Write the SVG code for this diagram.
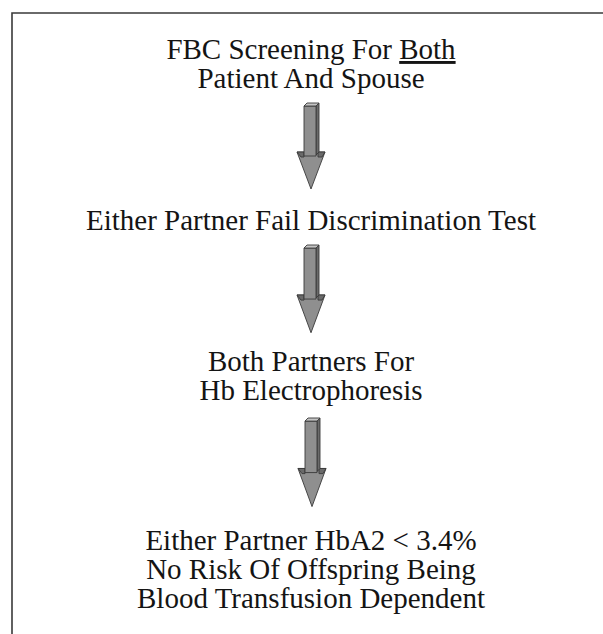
<svg xmlns="http://www.w3.org/2000/svg" xmlns:xlink="http://www.w3.org/1999/xlink" width="603" height="634" viewBox="0 0 603 634">
  <style>
    .t { font-family: "Liberation Serif", "Times New Roman", serif; font-size: 29px; fill: #141414; text-anchor: middle; }
    .frame { fill: none; stroke: #3a3a3a; stroke-width: 1.6; }
    .front { fill: #8f8f8f; stroke: #3a3a3a; stroke-width: 0.9; stroke-linejoin: round; }
    .topf { fill: #c4c4c4; stroke: #3a3a3a; stroke-width: 0.9; stroke-linejoin: round; }
    .side { fill: #6a6a6a; stroke: #3a3a3a; stroke-width: 0.9; stroke-linejoin: round; }
  </style>
  <defs>
    <g id="arrow3d">
      <polygon class="front" points="-14,49 14,49 0,86"/>
      <polygon class="side" points="-14,49 -7,49 -7,54 -10,54"/>
      <polygon class="side" points="7,49 14,49 11,54 7,54"/>
      <polygon class="side" points="5,3 8,0 8,49 5,52"/>
      <rect class="front" x="-7" y="3" width="12" height="50"/>
      <polygon class="topf" points="-7,3 -4,0 8,0 5,3"/>
    </g>
  </defs>
  <rect width="603" height="634" fill="#ffffff"/>
  <g id="frame">
    <polyline class="frame" points="12,634 12,13 603,13"/>
  </g>
  <g id="n1">
    <text class="t" x="311" y="59">FBC Screening For <tspan text-decoration="underline">Both</tspan></text>
    <text class="t" x="311" y="88">Patient And Spouse</text>
  </g>
  <g id="n2">
    <text class="t" x="311" y="230">Either Partner Fail Discrimination Test</text>
  </g>
  <g id="n3">
    <text class="t" x="311" y="371">Both Partners For</text>
    <text class="t" x="311" y="400">Hb Electrophoresis</text>
  </g>
  <g id="n4">
    <text class="t" x="311" y="550">Either Partner HbA2 &lt; 3.4%</text>
    <text class="t" x="311" y="579">No Risk Of Offspring Being</text>
    <text class="t" x="311" y="608">Blood Transfusion Dependent</text>
  </g>
  <g id="connectors">
    <use xlink:href="#arrow3d" transform="translate(311,103)"/>
    <use xlink:href="#arrow3d" transform="translate(311,245) scale(1,1.02)"/>
    <use xlink:href="#arrow3d" transform="translate(312,418) scale(1,1.03)"/>
  </g>
</svg>
